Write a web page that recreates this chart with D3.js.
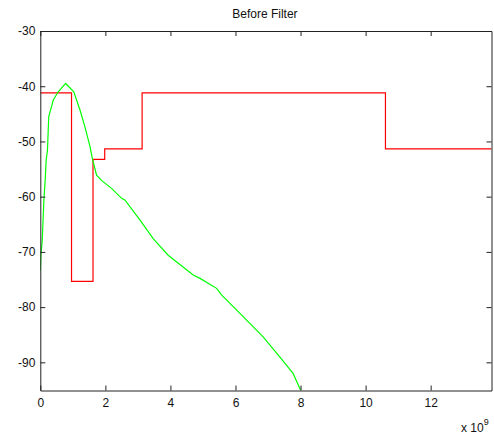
<!DOCTYPE html>
<html>
<head>
<meta charset="utf-8">
<script src="https://cdn.jsdelivr.net/npm/d3@7"></script>
<style>
  body { margin: 0; background: #fff; }
  svg { display: block; font-family: Arial, "Liberation Sans", sans-serif; }
</style>
</head>
<body>
<svg id="chart" width="494" height="438"></svg>
<script>
// Step trace (frequency in Hz, level in dB)
const stepX = [0, 0.96e9, 0.96e9, 1.62e9, 1.62e9, 1.98e9, 1.98e9, 3.13e9, 3.13e9, 10.61e9, 10.61e9, 13.87e9];
const stepY = [-41.2, -41.2, -75.35, -75.35, -53.25, -53.25, -51.35, -51.35, -41.2, -41.2, -51.35, -51.35];

// Smooth response trace
const curveX = [0, 0.02e9, 0.06e9, 0.11e9, 0.15e9, 0.18e9, 0.22e9, 0.26e9, 0.40e9, 0.55e9, 0.78e9, 1.03e9, 1.22e9, 1.37e9, 1.53e9, 1.60e9, 1.73e9, 1.89e9, 2.19e9, 2.5e9, 2.6e9, 3.06e9, 3.47e9, 3.93e9, 4.70e9, 4.91e9, 5.42e9, 5.57e9, 6.13e9, 6.85e9, 7.36e9, 7.77e9, 8.0e9];
const curveY = [-73.4, -70.6, -67.9, -60.6, -57.0, -53.4, -51.6, -45.5, -42.5, -41.0, -39.5, -41.0, -44.3, -47.3, -51.0, -53.1, -56.1, -57.1, -58.5, -60.3, -60.6, -64.2, -67.6, -70.6, -74.2, -74.8, -76.6, -77.8, -81.1, -85.4, -89.0, -92.0, -95.0];

const xTicks = [0, 2e9, 4e9, 6e9, 8e9, 10e9, 12e9];
const yTicks = [-30, -40, -50, -60, -70, -80, -90];

const titleText = "Before Filter";

const svg = d3.select("#chart");
const box = { left: 40.3, right: 491.5, top: 31, bottom: 390.5 };

const x = d3.scaleLinear().domain([0, 13.87e9]).range([box.left, box.right]);
const y = d3.scaleLinear().domain([-95.1, -30]).range([box.bottom, box.top]);

const axisColor = "#222";
const tickLen = 5;

svg.append("clipPath").attr("id", "plotclip")
  .append("rect").attr("x", box.left).attr("y", box.top - 1)
  .attr("width", box.right - box.left).attr("height", box.bottom - box.top + 1);

const plot = svg.append("g").attr("clip-path", "url(#plotclip)");

const line = d3.line().x(d => x(d[0])).y(d => y(d[1]));

plot.append("path")
  .datum(stepX.map((v, i) => [v, stepY[i]]))
  .attr("d", line)
  .attr("fill", "none").attr("stroke", "#ff0000").attr("stroke-width", 1.2);

plot.append("path")
  .datum(curveX.map((v, i) => [v, curveY[i]]))
  .attr("d", line)
  .attr("fill", "none").attr("stroke", "#00ff00").attr("stroke-width", 1.2);

// Axes (ticks inside, boxed frame); labels use a plain hyphen for negatives
const fmtX = d => String(Math.round(d / 1e9));
const fmtY = d => String(d);

const xb = svg.append("g").attr("transform", `translate(0,${box.bottom})`)
  .call(d3.axisBottom(x).tickValues(xTicks).tickFormat(fmtX).tickSizeInner(-tickLen).tickSizeOuter(0).tickPadding(8));
const xt = svg.append("g").attr("transform", `translate(0,${box.top})`)
  .call(d3.axisTop(x).tickValues(xTicks).tickFormat("").tickSizeInner(-tickLen).tickSizeOuter(0));
const yl = svg.append("g").attr("transform", `translate(${box.left},0)`)
  .call(d3.axisLeft(y).tickValues(yTicks).tickFormat(fmtY).tickSizeInner(-tickLen).tickSizeOuter(0).tickPadding(5));
const yr = svg.append("g").attr("transform", `translate(${box.right},0)`)
  .call(d3.axisRight(y).tickValues(yTicks).tickFormat("").tickSizeInner(-tickLen).tickSizeOuter(0));

[xb, xt, yl, yr].forEach(g => {
  g.select(".domain").attr("stroke", axisColor).attr("stroke-width", 1);
  g.selectAll(".tick line").attr("stroke", axisColor);
  g.selectAll("text").attr("fill", "#111").style("font-size", "12px")
    .style("font-family", "Arial, 'Liberation Sans', sans-serif");
});

// Exponent label
const ex = svg.append("text").attr("x", 461).attr("y", 432)
  .attr("fill", "#111").style("font-size", "12px");
ex.append("tspan").text("x 10");
ex.append("tspan").attr("dy", -7).style("font-size", "9px").text("9");

// Title
svg.append("text").attr("x", (box.left + box.right) / 2 - 1).attr("y", 18)
  .attr("text-anchor", "middle").attr("fill", "#111")
  .style("font-size", "12px").text(titleText);
</script>
</body>
</html>
